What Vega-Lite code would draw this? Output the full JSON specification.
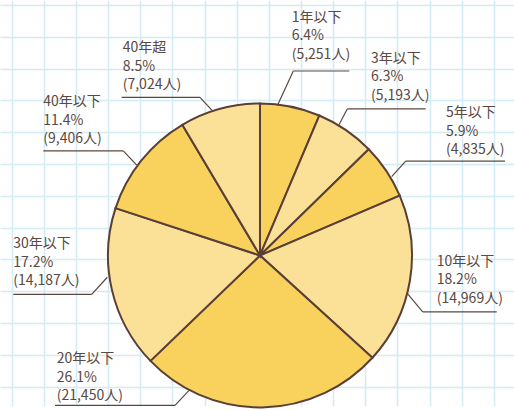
{
  "$schema": "https://vega.github.io/schema/vega-lite/v6.json",
  "width": 514,
  "height": 410,
  "autosize": {"type": "fit", "contains": "padding"},
  "padding": 0,
  "background": "#ffffff",
  "resolve": {"axis": {"x": "independent", "y": "independent"}},
  "datasets": {
    "d": [
      {"category": "1年以下", "count": 5251, "pct": 6.4},
      {"category": "3年以下", "count": 5193, "pct": 6.3},
      {"category": "5年以下", "count": 4835, "pct": 5.9},
      {"category": "10年以下", "count": 14969, "pct": 18.2},
      {"category": "20年以下", "count": 21450, "pct": 26.1},
      {"category": "30年以下", "count": 14187, "pct": 17.2},
      {"category": "40年以下", "count": 9406, "pct": 11.4},
      {"category": "40年超", "count": 7024, "pct": 8.5}
    ]
  },
  "config": {
    "view": {"stroke": null},
    "text": {"font": "Noto Sans CJK JP", "fontSize": 14, "color": "#5a4842", "align": "left", "baseline": "alphabetic", "lineHeight": 18.5},
    "rule": {"color": "#5b4740", "strokeWidth": 1.2}
  },
  "layer": [
    {
      "data": {"values": [{}]},
      "mark": {"type": "point", "opacity": 0},
      "encoding": {
        "x": {"datum": 0, "type": "quantitative",
          "scale": {"domain": [-0.364, 15.624], "nice": false, "zero": false},
          "axis": {"values": [0,1,2,3,4,5,6,7,8,9,10,11,12,13,14,15], "grid": true, "labels": false, "ticks": false, "domain": false, "title": null, "gridColor": "#d3ecf3", "gridWidth": 1.5, "minExtent": 0, "maxExtent": 0}},
        "y": {"datum": 0, "type": "quantitative",
          "scale": {"domain": [-0.156, 12.605], "nice": false, "zero": false, "reverse": true},
          "axis": {"values": [0,1,2,3,4,5,6,7,8,9,10,11,12], "grid": true, "labels": false, "ticks": false, "domain": false, "title": null, "gridColor": "#d3ecf3", "gridWidth": 1.5, "minExtent": 0, "maxExtent": 0}}
      }
    },
    {
      "data": {"name": "d"},
      "transform": [{"window": [{"op": "row_number", "as": "idx"}]}],
      "mark": {"type": "arc", "outerRadius": 152, "stroke": "#5a3f37", "strokeWidth": 2},
      "encoding": {
        "theta": {"field": "count", "type": "quantitative", "stack": true},
        "order": {"field": "idx", "type": "quantitative"},
        "color": {"field": "category", "type": "nominal", "legend": null,
          "scale": {"domain": ["1年以下","3年以下","5年以下","10年以下","20年以下","30年以下","40年以下","40年超"],
                    "range": ["#f8d25c","#fbe097","#f8d25c","#fbe097","#f8d25c","#fbe097","#f8d25c","#fbe097"]}},
        "x": {"datum": 7.723, "type": "quantitative", "axis": null},
        "y": {"datum": 7.874, "type": "quantitative", "axis": null}
      }
    },
    {"data": {"values": [{}]}, "mark": "rule", "encoding": {"x": {"datum": 8.261, "type": "quantitative", "axis": null}, "y": {"datum": 3.165, "type": "quantitative", "axis": null}, "x2": {"datum": 8.759}, "y2": {"datum": 2.076}}},
    {"data": {"values": [{}]}, "mark": "rule", "encoding": {"x": {"datum": 8.759, "type": "quantitative", "axis": null}, "y": {"datum": 2.076, "type": "quantitative", "axis": null}, "x2": {"datum": 10.501}}},
    {"data": {"values": [{}]}, "mark": "rule", "encoding": {"x": {"datum": 10.18, "type": "quantitative", "axis": null}, "y": {"datum": 3.766, "type": "quantitative", "axis": null}, "x2": {"datum": 10.439}, "y2": {"datum": 3.268}}},
    {"data": {"values": [{}]}, "mark": "rule", "encoding": {"x": {"datum": 10.439, "type": "quantitative", "axis": null}, "y": {"datum": 3.268, "type": "quantitative", "axis": null}, "x2": {"datum": 12.877}}},
    {"data": {"values": [{}]}, "mark": "rule", "encoding": {"x": {"datum": 11.82, "type": "quantitative", "axis": null}, "y": {"datum": 5.394, "type": "quantitative", "axis": null}, "x2": {"datum": 12.255}, "y2": {"datum": 4.908}}},
    {"data": {"values": [{}]}, "mark": "rule", "encoding": {"x": {"datum": 12.255, "type": "quantitative", "axis": null}, "y": {"datum": 4.908, "type": "quantitative", "axis": null}, "x2": {"datum": 15.344}}},
    {"data": {"values": [{}]}, "mark": "rule", "encoding": {"x": {"datum": 12.317, "type": "quantitative", "axis": null}, "y": {"datum": 9.079, "type": "quantitative", "axis": null}, "x2": {"datum": 12.784}, "y2": {"datum": 9.648}}},
    {"data": {"values": [{}]}, "mark": "rule", "encoding": {"x": {"datum": 12.784, "type": "quantitative", "axis": null}, "y": {"datum": 9.648, "type": "quantitative", "axis": null}, "x2": {"datum": 15.086}}},
    {"data": {"values": [{}]}, "mark": "rule", "encoding": {"x": {"datum": 5.546, "type": "quantitative", "axis": null}, "y": {"datum": 12.085, "type": "quantitative", "axis": null}, "x2": {"datum": 5.079}, "y2": {"datum": 12.583}}},
    {"data": {"values": [{}]}, "mark": "rule", "encoding": {"x": {"datum": 1.347, "type": "quantitative", "axis": null}, "y": {"datum": 12.583, "type": "quantitative", "axis": null}, "x2": {"datum": 5.079}}},
    {"data": {"values": [{}]}, "mark": "rule", "encoding": {"x": {"datum": 2.974, "type": "quantitative", "axis": null}, "y": {"datum": 8.559, "type": "quantitative", "axis": null}, "x2": {"datum": 2.488}, "y2": {"datum": 9.097}}},
    {"data": {"values": [{}]}, "mark": "rule", "encoding": {"x": {"datum": 0.05, "type": "quantitative", "axis": null}, "y": {"datum": 9.097, "type": "quantitative", "axis": null}, "x2": {"datum": 2.488}}},
    {"data": {"values": [{}]}, "mark": "rule", "encoding": {"x": {"datum": 3.888, "type": "quantitative", "axis": null}, "y": {"datum": 5.033, "type": "quantitative", "axis": null}, "x2": {"datum": 3.471}, "y2": {"datum": 4.584}}},
    {"data": {"values": [{}]}, "mark": "rule", "encoding": {"x": {"datum": 0.983, "type": "quantitative", "axis": null}, "y": {"datum": 4.584, "type": "quantitative", "axis": null}, "x2": {"datum": 3.471}}},
    {"data": {"values": [{}]}, "mark": "rule", "encoding": {"x": {"datum": 6.24, "type": "quantitative", "axis": null}, "y": {"datum": 3.321, "type": "quantitative", "axis": null}, "x2": {"datum": 5.857}, "y2": {"datum": 2.904}}},
    {"data": {"values": [{}]}, "mark": "rule", "encoding": {"x": {"datum": 3.421, "type": "quantitative", "axis": null}, "y": {"datum": 2.904, "type": "quantitative", "axis": null}, "x2": {"datum": 5.857}}},
    {"data": {"name": "d"}, "transform": [{"filter": "datum.category === '1年以下'"}, {"calculate": "[datum.category, format(datum.pct, '.1f') + '%', '(' + format(datum.count, ',') + '人)']", "as": "label"}], "mark": "text", "encoding": {"x": {"datum": 8.709, "type": "quantitative", "axis": null}, "y": {"datum": 0.52, "type": "quantitative", "axis": null}, "text": {"field": "label"}}},
    {"data": {"name": "d"}, "transform": [{"filter": "datum.category === '3年以下'"}, {"calculate": "[datum.category, format(datum.pct, '.1f') + '%', '(' + format(datum.count, ',') + '人)']", "as": "label"}], "mark": "text", "encoding": {"x": {"datum": 11.176, "type": "quantitative", "axis": null}, "y": {"datum": 1.814, "type": "quantitative", "axis": null}, "text": {"field": "label"}}},
    {"data": {"name": "d"}, "transform": [{"filter": "datum.category === '5年以下'"}, {"calculate": "[datum.category, format(datum.pct, '.1f') + '%', '(' + format(datum.count, ',') + '人)']", "as": "label"}], "mark": "text", "encoding": {"x": {"datum": 13.509, "type": "quantitative", "axis": null}, "y": {"datum": 3.526, "type": "quantitative", "axis": null}, "text": {"field": "label"}}},
    {"data": {"name": "d"}, "transform": [{"filter": "datum.category === '10年以下'"}, {"calculate": "[datum.category, format(datum.pct, '.1f') + '%', '(' + format(datum.count, ',') + '人)']", "as": "label"}], "mark": "text", "encoding": {"x": {"datum": 13.219, "type": "quantitative", "axis": null}, "y": {"datum": 8.195, "type": "quantitative", "axis": null}, "text": {"field": "label"}}},
    {"data": {"name": "d"}, "transform": [{"filter": "datum.category === '20年以下'"}, {"calculate": "[datum.category, format(datum.pct, '.1f') + '%', '(' + format(datum.count, ',') + '人)']", "as": "label"}], "mark": "text", "encoding": {"x": {"datum": 1.4, "type": "quantitative", "axis": null}, "y": {"datum": 11.257, "type": "quantitative", "axis": null}, "text": {"field": "label"}}},
    {"data": {"name": "d"}, "transform": [{"filter": "datum.category === '30年以下'"}, {"calculate": "[datum.category, format(datum.pct, '.1f') + '%', '(' + format(datum.count, ',') + '人)']", "as": "label"}], "mark": "text", "encoding": {"x": {"datum": 0.05, "type": "quantitative", "axis": null}, "y": {"datum": 7.647, "type": "quantitative", "axis": null}, "text": {"field": "label"}}},
    {"data": {"name": "d"}, "transform": [{"filter": "datum.category === '40年以下'"}, {"calculate": "[datum.category, format(datum.pct, '.1f') + '%', '(' + format(datum.count, ',') + '人)']", "as": "label"}], "mark": "text", "encoding": {"x": {"datum": 0.983, "type": "quantitative", "axis": null}, "y": {"datum": 3.184, "type": "quantitative", "axis": null}, "text": {"field": "label"}}},
    {"data": {"name": "d"}, "transform": [{"filter": "datum.category === '40年超'"}, {"calculate": "[datum.category, format(datum.pct, '.1f') + '%', '(' + format(datum.count, ',') + '人)']", "as": "label"}], "mark": "text", "encoding": {"x": {"datum": 3.453, "type": "quantitative", "axis": null}, "y": {"datum": 1.494, "type": "quantitative", "axis": null}, "text": {"field": "label"}}}
  ]
}
